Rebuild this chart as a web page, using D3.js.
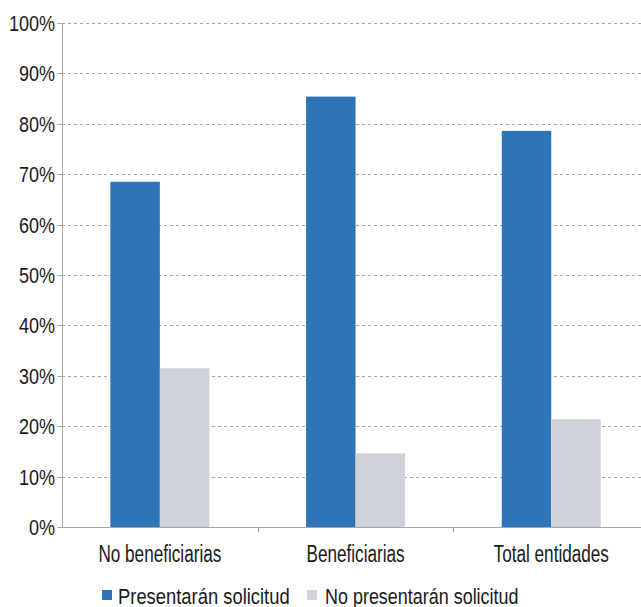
<!DOCTYPE html>
<html><head><meta charset="utf-8">
<script src="https://cdn.jsdelivr.net/npm/d3@7/dist/d3.min.js"></script>
<style>body{margin:0;background:#fff}svg{display:block}text{font-family:"Liberation Sans","Arial",sans-serif;fill:#1a1a1a}</style>
</head><body><svg id="c" width="641" height="607"></svg>
<script>
const categories = ["No beneficiarias","Beneficiarias","Total entidades"];
const seriesNames = ["Presentarán solicitud","No presentarán solicitud"];
const presentaran = [68.5, 85.4, 78.6];
const noPresentaran = [31.5, 14.6, 21.4];
const yTicks = [0,10,20,30,40,50,60,70,80,90,100];
const colors = ["#2e75b8","#cfd2d9"];

(function(){
const svg = d3.select("#c");
const mLeft = 62, mTop = 23, mBottom = 527, bandW = 195.7;
const x = d3.scaleBand().domain(categories).range([mLeft, mLeft + bandW*3]).paddingInner(0).paddingOuter(0);
const y = d3.scaleLinear().domain([0,100]).range([mBottom, mTop]);
const xs = d3.scaleBand().domain([0,1]).range([0, x.bandwidth()]).paddingInner(0).paddingOuter(0.977);

// grid
svg.append("g").selectAll("line").data(yTicks.filter(d=>d>0)).join("line")
  .attr("x1", mLeft).attr("x2", 641).attr("y1", d=>Math.round(y(d))+0.5).attr("y2", d=>Math.round(y(d))+0.5)
  .attr("stroke","#a6a6a6").attr("stroke-dasharray","3,3").attr("stroke-width",1);

// bars
const data = categories.map((c,i)=>[presentaran[i], noPresentaran[i]]);
const g = svg.append("g");
categories.forEach((c,i)=>{
  data[i].forEach((v,j)=>{
    g.append("rect").attr("x", x(c)+xs(j)).attr("width", xs.bandwidth())
     .attr("y", y(v)).attr("height", mBottom - y(v)).attr("fill", colors[j]);
  });
});

// y axis
const ya = svg.append("g").attr("transform",`translate(${mLeft+0.5},0)`)
  .call(d3.axisLeft(y).tickValues(yTicks).tickFormat(d=>d+"%").tickSize(5).tickPadding(3));
ya.select(".domain").attr("stroke","#a6a6a6").attr("d",`M0,${mTop}V${mBottom}`);
ya.selectAll(".tick line").attr("stroke","#a6a6a6");
ya.selectAll(".tick").attr("transform", d=>`translate(0,${Math.round(y(d))+0.5})`);
ya.selectAll("text").attr("font-size",22.5).attr("fill","#1a1a1a").attr("font-family","Liberation Sans, Arial, sans-serif")
  .attr("x", -7.5/0.8).attr("dy","0.35em").attr("transform","scale(0.8,1)");

// x axis
const xa = svg.append("g").attr("transform",`translate(0,${mBottom+0.5})`)
  .call(d3.axisBottom(x).tickSize(0));
xa.select(".domain").attr("stroke","#a6a6a6").attr("d",`M${mLeft},0H641`);
xa.selectAll("text").attr("font-size",23.5).attr("fill","#1a1a1a").attr("font-family","Liberation Sans, Arial, sans-serif")
  .attr("dy",null).attr("y",34.5).attr("transform","scale(0.73,1)");
svg.append("g").selectAll("line").data(categories.slice(1)).join("line")
  .attr("x1", d=>Math.round(x(d))+0.5).attr("x2", d=>Math.round(x(d))+0.5)
  .attr("y1", mBottom).attr("y2", mBottom+5).attr("stroke","#a6a6a6");

// legend
const legX = [102, 307];
const legTX = [118, 325];
const legScale = [0.855, 0.835];
const lg = svg.append("g");
seriesNames.forEach((n,i)=>{
  lg.append("rect").attr("x", legX[i]).attr("y", 590).attr("width",10).attr("height",10).attr("fill",colors[i]);
  lg.append("text").attr("transform",`translate(${legTX[i]},603.5) scale(${legScale[i]},1)`).attr("font-size",21.5).text(n);
});
})();
</script></body></html>
